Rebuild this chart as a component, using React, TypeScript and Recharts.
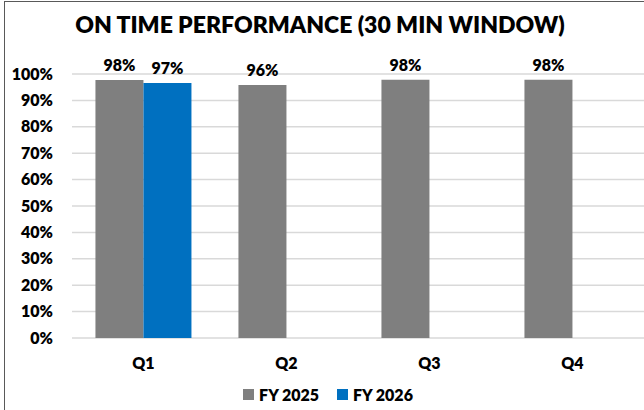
import React from 'react';
import { BarChart, Bar, XAxis, YAxis, CartesianGrid, LabelList } from 'recharts';

const title = 'ON TIME PERFORMANCE (30 MIN WINDOW)';
const quarters = ['Q1', 'Q2', 'Q3', 'Q4'];
const fy2025 = [0.977, 0.958, 0.978, 0.978];
const fy2026: (number | null)[] = [0.966, null, null, null];
const yTicks = [0, 0.1, 0.2, 0.3, 0.4, 0.5, 0.6, 0.7, 0.8, 0.9, 1];
const seriesNames = ['FY 2025', 'FY 2026'];
const seriesColors = ['#7f7f7f', '#0070c0'];

const data = quarters.map((q, i) => ({ q, fy2025: fy2025[i], fy2026: fy2026[i] }));

const FONT = 'Lato, "Open Sans", sans-serif';
const pct = (v: any) => (v == null || isNaN(v) ? '' : `${Math.round(v * 100)}%`);

export default function App() {
  return (
    <div style={{ position: 'absolute', left: 0, top: 0, width: 644, height: 410, background: '#fff', overflow: 'hidden' }}>
      <div style={{ position: 'absolute', left: 4, top: 1, width: 1, height: 409, background: '#595959' }} />
      <div style={{ position: 'absolute', left: 4, top: 1, width: 640, height: 1, background: '#595959' }} />
      <svg width={644} height={50} style={{ position: 'absolute', left: 0, top: 0 }}>
        <text x={320} y={33} textAnchor="middle" fontFamily={FONT} fontWeight={800} fontSize={23} fill="#000">{title}</text>
      </svg>
      <div style={{ position: 'absolute', left: 0, top: 0 }}>
        <BarChart width={644} height={410} data={data} margin={{ top: 74, right: 0, bottom: 42, left: 0 }} barCategoryGap="16.4%" barGap={0}>
          <CartesianGrid horizontal vertical={false} stroke="#d9d9d9" strokeWidth={1.5} />
          <XAxis dataKey="q" height={30} axisLine={false} tickLine={false} tickSize={0} tickMargin={20} tick={{ fill: '#000', fontFamily: FONT, fontWeight: 800, fontSize: 16 }} />
          <YAxis width={72} domain={[0, 1]} ticks={yTicks} interval={0} tickFormatter={pct} axisLine={false} tickLine={false} tickSize={0} tickMargin={19} tick={{ fill: '#000', fontFamily: FONT, fontWeight: 800, fontSize: 16 }} />
          <Bar dataKey="fy2025" name={seriesNames[0]} fill={seriesColors[0]} isAnimationActive={false}>
            <LabelList dataKey="fy2025" position="top" offset={9} formatter={pct} style={{ fill: '#000', fontFamily: FONT, fontWeight: 800, fontSize: 16 }} />
          </Bar>
          <Bar dataKey="fy2026" name={seriesNames[1]} fill={seriesColors[1]} isAnimationActive={false}>
            <LabelList dataKey="fy2026" position="top" offset={9} formatter={pct} style={{ fill: '#000', fontFamily: FONT, fontWeight: 800, fontSize: 16 }} />
          </Bar>
        </BarChart>
      </div>
      <div style={{ position: 'absolute', left: 0, top: 384, width: 644, height: 20, display: 'flex', justifyContent: 'center', alignItems: 'center', fontFamily: FONT, fontWeight: 800, fontSize: 16, color: '#000' }}>
        {seriesNames.map((n, i) => (
          <div key={n} style={{ display: 'flex', alignItems: 'center', marginLeft: i === 0 ? 12 : 18 }}>
            <div style={{ width: 11, height: 11, background: seriesColors[i], marginRight: 5 }} />
            <span>{n}</span>
          </div>
        ))}
      </div>
    </div>
  );
}
